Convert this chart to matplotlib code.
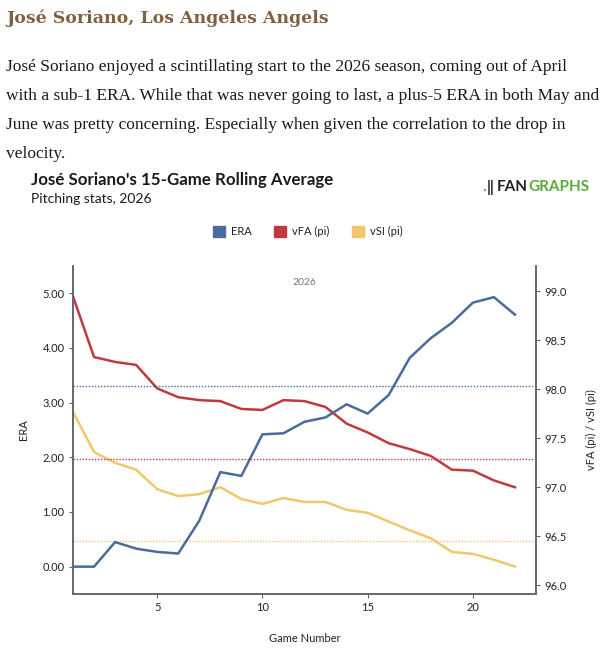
import matplotlib
matplotlib.use('Agg')
import matplotlib.pyplot as plt
from matplotlib.ticker import FormatStrFormatter
from matplotlib.patches import Rectangle

games = list(range(1, 23))
era = [0.00, 0.00, 0.45, 0.33, 0.27, 0.24, 0.84, 1.73, 1.66, 2.42, 2.44,
       2.65, 2.73, 2.97, 2.80, 3.14, 3.82, 4.18, 4.46, 4.83, 4.93, 4.61]
vfa = [98.95, 98.33, 98.28, 98.25, 98.01, 97.92, 97.89, 97.88, 97.80, 97.79, 97.89,
       97.88, 97.82, 97.65, 97.56, 97.45, 97.39, 97.32, 97.18, 97.17, 97.07, 97.00]
vsi = [97.77, 97.36, 97.25, 97.18, 96.98, 96.91, 96.93, 97.00, 96.88, 96.83, 96.89,
       96.85, 96.85, 96.77, 96.74, 96.65, 96.56, 96.48, 96.34, 96.32, 96.26, 96.19]
era_avg = 3.30
vfa_avg = 97.29
vsi_avg = 96.45

blue = '#4a6b9d'
red = '#c03a3d'
yellow = '#f2c76b'
spine = '#666666'

plt.rcParams['font.family'] = ['Lato', 'DejaVu Sans']

fig = plt.figure(figsize=(6.16, 6.58), dpi=100)

# article header
fig.text(6/616, 1 - 18/658, 'José Soriano, Los Angeles Angels', family='DejaVu Serif',
         fontsize=12.5, fontweight='bold', color='#80613f', va='center', ha='left')
para = ['José Soriano enjoyed a scintillating start to the 2026 season, coming out of April',
        'with a sub-1 ERA. While that was never going to last, a plus-5 ERA in both May and',
        'June was pretty concerning. Especially when given the correlation to the drop in',
        'velocity.']
for i, line in enumerate(para):
    fig.text(6/616, 1 - (67 + i * 29)/658, line, family='Liberation Serif',
             fontsize=12.5, color='#1a1a1a', va='center', ha='left')

# chart header
fig.text(31/616, 1 - 180/658, "José Soriano's 15-Game Rolling Average",
         fontsize=12.2, fontweight='bold', color='#1a1a1a', va='center', ha='left')
fig.text(31/616, 1 - 199/658, 'Pitching stats, 2026',
         fontsize=10, color='#1a1a1a', va='center', ha='left')

# logo
fig.text(482/616, 1 - 187/658, '.', fontsize=11, fontweight='bold', color='#59a93a',
         va='center', ha='left')
fig.text(487/616, 1 - 187/658, '\u2016', fontsize=11, fontweight='bold', color='#222222',
         va='center', ha='left')
fig.text(497/616, 1 - 187/658, 'FAN', fontsize=11, fontweight='bold',
         color='#222222', va='center', ha='left')
fig.text(528/616, 1 - 187/658, 'GRAPHS', fontsize=11, fontweight='bold',
         color='#59a93a', va='center', ha='left')

# legend
leg = [(213, 'ERA', blue), (274, 'vFA (pi)', red), (352, 'vSI (pi)', yellow)]
for x0, lab, c in leg:
    fig.patches.append(Rectangle((x0/616, 1 - 237/658), 12/616, 11/658,
                                 transform=fig.transFigure, color=c))
    fig.text((x0 + 18)/616, 1 - 231.5/658, lab, fontsize=8, color='#222222',
             va='center', ha='left')

ax = fig.add_axes([73/616, 1 - 594/658, (536 - 73)/616, (594 - 266)/658])
ax2 = ax.twinx()

ax.plot(games, era, color=blue, lw=1.8, zorder=3)
ax.axhline(era_avg, color=blue, lw=1, ls=(0, (1, 1.2)), zorder=2)
ax2.plot(games, vfa, color=red, lw=1.8)
ax2.plot(games, vsi, color=yellow, lw=1.8)
ax2.axhline(vfa_avg, color=red, lw=1, ls=(0, (1, 1.2)))
ax2.axhline(vsi_avg, color=yellow, lw=1, ls=(0, (1, 1.2)))

ax.set_zorder(ax2.get_zorder() + 1)
ax.patch.set_visible(False)

ax.set_xlim(1, 23)
ax.set_ylim(-0.5, 5.5)
ax2.set_ylim(95.91, 99.26)
ax.set_xticks([5, 10, 15, 20])
ax.set_yticks([0, 1, 2, 3, 4, 5])
ax2.set_yticks([96.0, 96.5, 97.0, 97.5, 98.0, 98.5, 99.0])
ax.yaxis.set_major_formatter(FormatStrFormatter('%.2f'))
ax2.yaxis.set_major_formatter(FormatStrFormatter('%.1f'))

for a in (ax, ax2):
    a.spines['top'].set_visible(False)
    for s in ('left', 'right', 'bottom'):
        a.spines[s].set_color(spine)
        a.spines[s].set_linewidth(1.2)
    a.tick_params(length=3, width=0.8, color=spine, labelsize=8, labelcolor='#222222', pad=3)

ax.set_xlabel('Game Number', fontsize=8, color='#222222', labelpad=14)
ax.set_ylabel('ERA', fontsize=8, color='#222222', labelpad=10)
ax2.set_ylabel('vFA (pi) / vSI (pi)', fontsize=8, color='#222222', labelpad=14)

ax.text(0.5, 0.95, '2026', transform=ax.transAxes, fontsize=7.5, color='#777777',
        ha='center', va='center')

fig.savefig('out.png', dpi=100)
